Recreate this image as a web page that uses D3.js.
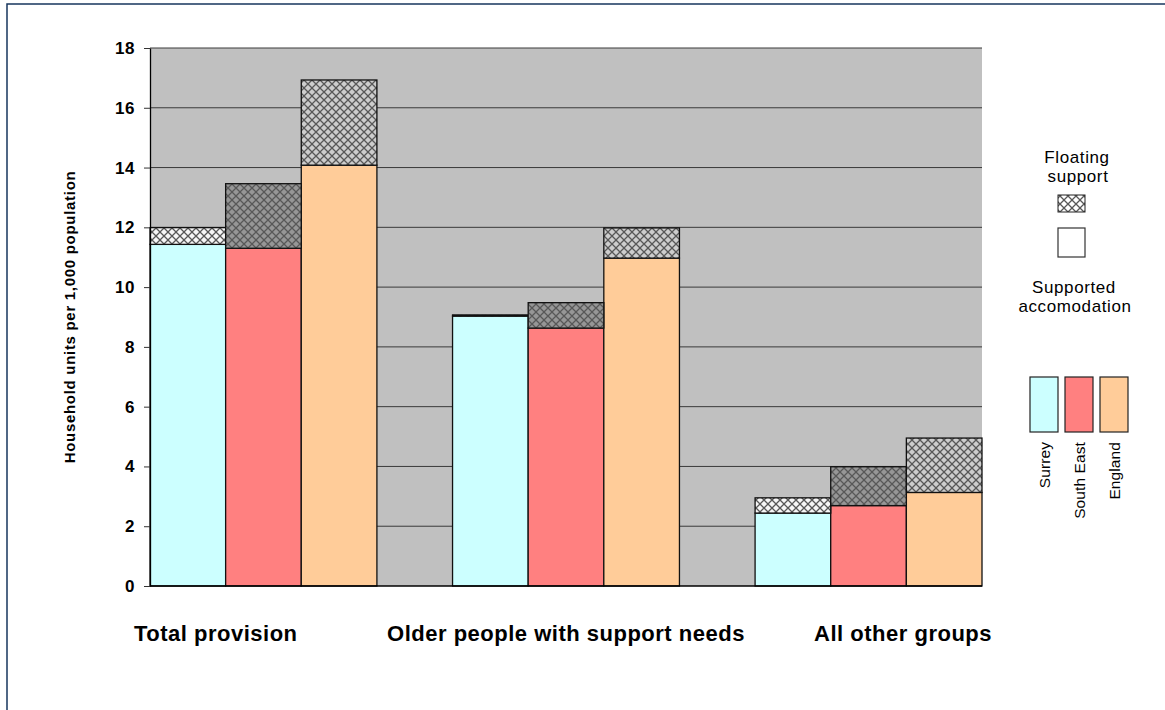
<!DOCTYPE html>
<html>
<head>
<meta charset="utf-8">
<script src="https://cdn.jsdelivr.net/npm/d3@7"></script>
<style>
  body { margin: 0; background: #fff; }
  svg { display: block; font-family: "Liberation Sans", Arial, sans-serif; }
</style>
</head>
<body>
<svg id="chart" width="1165" height="710"></svg>
<script>
// Household units per 1,000 population, split into supported accommodation
// and floating support, for three areas across three client groups.
const categories = ["Total provision", "Older people with support needs", "All other groups"];
const regions = ["Surrey", "South East", "England"];

const surreySupported    = [11.43, 9.03, 2.44];
const surreyFloating     = [0.56, 0.04, 0.51];
const southEastSupported = [11.30, 8.63, 2.69];
const southEastFloating  = [2.16, 0.85, 1.30];
const englandSupported   = [14.08, 10.97, 3.13];
const englandFloating    = [2.85, 1.01, 1.82];

const yTicks = [0, 2, 4, 6, 8, 10, 12, 14, 16, 18];

const regionColors  = ["#ccffff", "#ff8080", "#ffcc99"];
const floatingFills = ["#f6f6f6", "#969696", "#cdcdcd"];

const supportedByRegion = [surreySupported, southEastSupported, englandSupported];
const floatingByRegion  = [surreyFloating, southEastFloating, englandFloating];

const svg = d3.select("#chart");
const W = 1165, H = 710;
const plot = { left: 150, right: 982, top: 48, bottom: 586 };

// Page frame
svg.append("path")
  .attr("d", `M7,${H} L7,4 L${W},4`)
  .attr("fill", "none")
  .attr("stroke", "#17365d")
  .attr("stroke-width", 1.5);

// Lattice patterns for the floating support segments
const defs = svg.append("defs");
function lattice(id, bg) {
  const p = defs.append("pattern")
    .attr("id", id)
    .attr("patternUnits", "userSpaceOnUse")
    .attr("width", 8).attr("height", 8);
  p.append("rect").attr("width", 8).attr("height", 8).attr("fill", bg);
  p.append("path")
    .attr("d", "M0,0 L8,8 M8,0 L0,8")
    .attr("stroke", "#585858")
    .attr("stroke-width", 1.3)
    .attr("fill", "none");
}
floatingFills.forEach((c, i) => lattice("float-" + i, c));
lattice("float-legend", "#ffffff");

// Scales
const x0 = d3.scaleBand()
  .domain(categories)
  .range([plot.left, plot.right])
  .paddingInner(0.25)
  .paddingOuter(0);
const x1 = d3.scaleBand()
  .domain(regions)
  .range([0, x0.bandwidth()])
  .padding(0);
const y = d3.scaleLinear()
  .domain([0, 18])
  .range([plot.bottom, plot.top]);

// Plot background
svg.append("rect")
  .attr("x", plot.left).attr("y", plot.top)
  .attr("width", plot.right - plot.left)
  .attr("height", plot.bottom - plot.top)
  .attr("fill", "#c0c0c0");

// Gridlines
svg.append("g")
  .selectAll("line")
  .data(yTicks.filter(d => d > 0))
  .join("line")
  .attr("x1", plot.left).attr("x2", plot.right)
  .attr("y1", d => y(d)).attr("y2", d => y(d))
  .attr("stroke", "#3a3a3a")
  .attr("stroke-width", 1);

// Bars
const rows = [];
categories.forEach((cat, ci) => {
  regions.forEach((reg, ri) => {
    rows.push({
      cat, reg, ri,
      supported: supportedByRegion[ri][ci],
      floating: floatingByRegion[ri][ci]
    });
  });
});

const bars = svg.append("g");
bars.selectAll("rect.supported")
  .data(rows)
  .join("rect")
  .attr("class", "supported")
  .attr("x", d => x0(d.cat) + x1(d.reg))
  .attr("width", x1.bandwidth())
  .attr("y", d => y(d.supported))
  .attr("height", d => y(0) - y(d.supported))
  .attr("fill", d => regionColors[d.ri])
  .attr("stroke", "#111")
  .attr("stroke-width", 1.3);

bars.selectAll("rect.floating")
  .data(rows)
  .join("rect")
  .attr("class", "floating")
  .attr("x", d => x0(d.cat) + x1(d.reg))
  .attr("width", x1.bandwidth())
  .attr("y", d => y(d.supported + d.floating))
  .attr("height", d => y(d.supported) - y(d.supported + d.floating))
  .attr("fill", d => `url(#float-${d.ri})`)
  .attr("stroke", "#111")
  .attr("stroke-width", 1.3);

// Axes
const yAxis = svg.append("g")
  .attr("transform", `translate(${plot.left},0)`)
  .call(d3.axisLeft(y).tickValues(yTicks).tickSize(6).tickPadding(9).tickSizeOuter(0));
yAxis.select(".domain").attr("stroke", "#000").attr("stroke-width", 1.3);
yAxis.selectAll(".tick line").attr("stroke", "#333");
yAxis.selectAll(".tick text")
  .attr("font-size", 17)
  .attr("font-weight", "bold")
  .attr("font-family", "Liberation Sans, Arial, sans-serif")
  .attr("letter-spacing", 0.5)
  .attr("fill", "#000");

svg.append("line")
  .attr("x1", plot.left).attr("x2", plot.right)
  .attr("y1", plot.bottom).attr("y2", plot.bottom)
  .attr("stroke", "#000").attr("stroke-width", 1.3);

// Axis title
svg.append("text")
  .attr("transform", `translate(75,317) rotate(-90)`)
  .attr("text-anchor", "middle")
  .attr("font-size", 15)
  .attr("font-weight", "bold")
  .attr("letter-spacing", 0.7)
  .text("Household units per 1,000 population");

// Category labels
const catAnchors = ["start", "middle", "end"];
const catX = [
  x0(categories[0]) - 16,
  x0(categories[1]) + x0.bandwidth() / 2,
  x0(categories[2]) + x0.bandwidth() + 10
];
svg.append("g")
  .selectAll("text")
  .data(categories)
  .join("text")
  .attr("x", (d, i) => catX[i])
  .attr("y", 641)
  .attr("text-anchor", (d, i) => catAnchors[i])
  .attr("font-size", 22)
  .attr("font-weight", "bold")
  .attr("letter-spacing", 0.5)
  .text(d => d);

// Legend: segment types
const lg = svg.append("g")
  .attr("font-size", 17)
  .attr("letter-spacing", 0.6);
lg.append("text")
  .attr("x", 1077).attr("y", 163)
  .attr("text-anchor", "middle")
  .text("Floating");
lg.append("text")
  .attr("x", 1078).attr("y", 182)
  .attr("text-anchor", "middle")
  .text("support");
lg.append("rect")
  .attr("x", 1058).attr("y", 195).attr("width", 27).attr("height", 17)
  .attr("fill", "url(#float-legend)").attr("stroke", "#222").attr("stroke-width", 1);
lg.append("rect")
  .attr("x", 1058).attr("y", 228).attr("width", 27).attr("height", 29)
  .attr("fill", "#fff").attr("stroke", "#333").attr("stroke-width", 1.2);
lg.append("text")
  .attr("x", 1074).attr("y", 293)
  .attr("text-anchor", "middle")
  .text("Supported");
lg.append("text")
  .attr("x", 1075).attr("y", 312)
  .attr("text-anchor", "middle")
  .text("accomodation");

// Legend: areas
const swX = [1030, 1065, 1100];
const areaLegend = lg.selectAll("g.area")
  .data(regions)
  .join("g")
  .attr("class", "area");
areaLegend.append("rect")
  .attr("x", (d, i) => swX[i]).attr("y", 377)
  .attr("width", 28).attr("height", 55)
  .attr("fill", (d, i) => regionColors[i])
  .attr("stroke", "#222").attr("stroke-width", 1.2);
areaLegend.append("text")
  .attr("transform", (d, i) => `translate(${swX[i] + 20},442) rotate(-90)`)
  .attr("text-anchor", "end")
  .attr("font-size", 15.5)
  .attr("letter-spacing", 0.1)
  .text(d => d);
</script>
</body>
</html>
